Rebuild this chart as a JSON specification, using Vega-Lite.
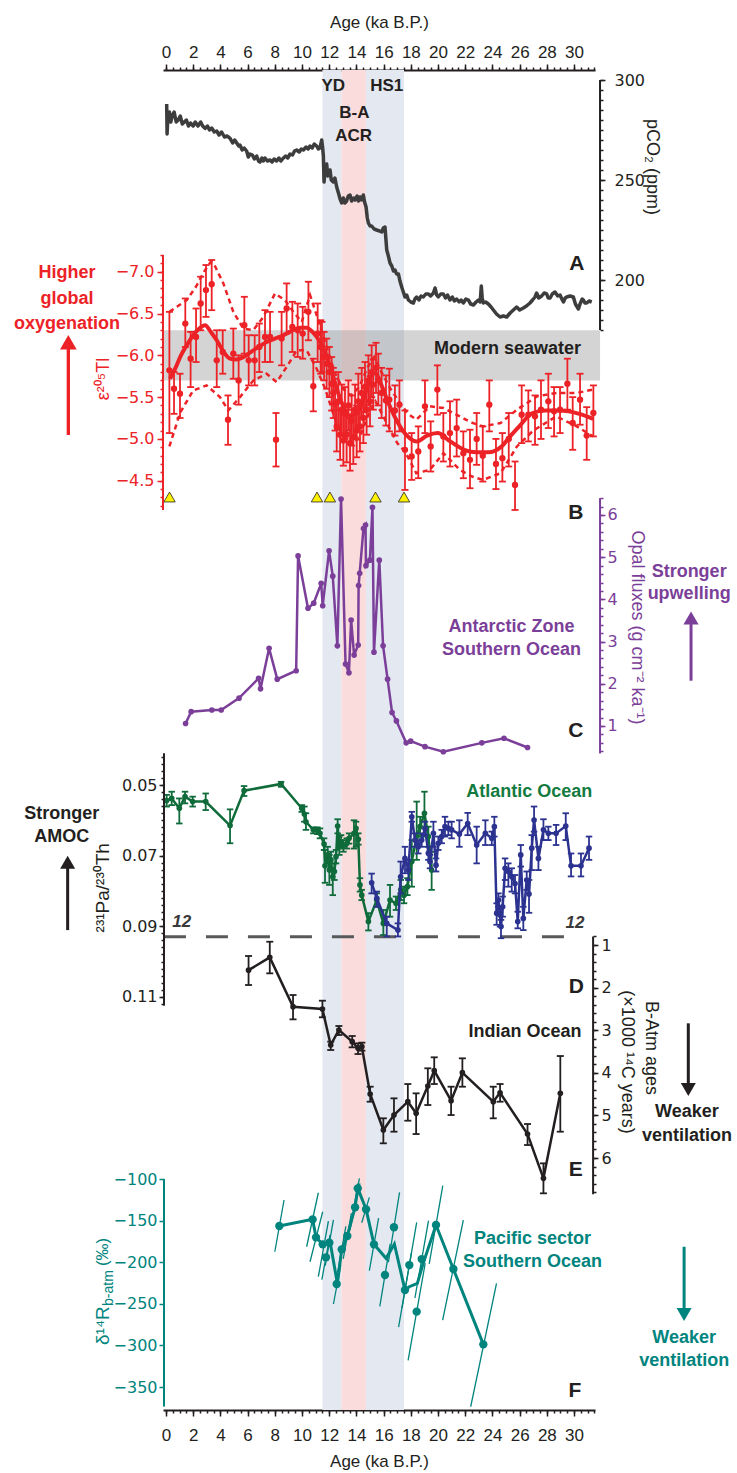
{
"$schema":"https://vega.github.io/schema/vega-lite/v6.json",
"width":432,"height":1340,
"autosize":{"type":"none"},
"padding":{"left":163,"top":70,"right":142,"bottom":63},
"background":"white",
"config":{"view":{"stroke":null},"font":"Liberation Sans","text":{"font":"Liberation Sans"},
"axis":{"grid":false,"labelFont":"DejaVu Sans","titleFont":"Liberation Sans","labelFontSize":16,"titleFontSize":17,"titleFontWeight":"normal","tickWidth":1.5,"domainWidth":2,"domainColor":"#231f20","tickColor":"#231f20","labelColor":"#231f20","titleColor":"#231f20","labelFlush":false,"labelOverlap":false}},
"datasets":{
"bands":[{"s":11.5,"e":12.9,"b":"YD"},{"s":12.9,"e":14.7,"b":"BA"},{"s":14.7,"e":17.5,"b":"HS1"}],
"pco2":[{"a":0.05,"v":288},{"a":0.08,"v":273},{"a":0.15,"v":283},{"a":0.25,"v":284},{"a":0.35,"v":279},{"a":0.45,"v":282},{"a":0.6,"v":284},{"a":0.75,"v":279},{"a":0.9,"v":280},{"a":1.05,"v":282},{"a":1.2,"v":278},{"a":1.35,"v":279},{"a":1.5,"v":280},{"a":1.65,"v":277},{"a":1.8,"v":278.5},{"a":2.0,"v":277},{"a":2.15,"v":279},{"a":2.35,"v":277},{"a":2.55,"v":279},{"a":2.7,"v":277},{"a":2.87,"v":275.8},{"a":3.05,"v":277},{"a":3.2,"v":275},{"a":3.36,"v":276},{"a":3.55,"v":274},{"a":3.73,"v":274.5},{"a":3.9,"v":272.5},{"a":4.09,"v":274},{"a":4.3,"v":271.5},{"a":4.5,"v":272},{"a":4.71,"v":270.8},{"a":4.9,"v":268.5},{"a":5.05,"v":270},{"a":5.2,"v":268.5},{"a":5.35,"v":267},{"a":5.44,"v":267.5},{"a":5.6,"v":265},{"a":5.75,"v":266},{"a":5.93,"v":264.5},{"a":6.05,"v":261.5},{"a":6.18,"v":263},{"a":6.35,"v":262.5},{"a":6.5,"v":260.5},{"a":6.67,"v":262},{"a":6.8,"v":259.5},{"a":6.91,"v":259},{"a":7.05,"v":261},{"a":7.15,"v":259.5},{"a":7.28,"v":261},{"a":7.45,"v":259.5},{"a":7.65,"v":260},{"a":7.8,"v":259},{"a":7.95,"v":260.5},{"a":8.14,"v":259.5},{"a":8.3,"v":261},{"a":8.45,"v":259.5},{"a":8.63,"v":261},{"a":8.8,"v":262},{"a":8.95,"v":261},{"a":9.12,"v":263},{"a":9.3,"v":262.5},{"a":9.45,"v":264.5},{"a":9.61,"v":265},{"a":9.8,"v":264},{"a":9.95,"v":265.5},{"a":10.1,"v":265},{"a":10.3,"v":266.5},{"a":10.45,"v":265.5},{"a":10.59,"v":267},{"a":10.75,"v":266},{"a":10.9,"v":268},{"a":11.08,"v":267},{"a":11.2,"v":265.5},{"a":11.32,"v":266},{"a":11.45,"v":270},{"a":11.52,"v":266},{"a":11.57,"v":262},{"a":11.62,"v":249},{"a":11.7,"v":256},{"a":11.81,"v":258},{"a":11.9,"v":252},{"a":12.06,"v":255},{"a":12.15,"v":250},{"a":12.3,"v":249},{"a":12.42,"v":251},{"a":12.55,"v":246.5},{"a":12.7,"v":243},{"a":12.8,"v":240.5},{"a":12.92,"v":238.5},{"a":13.04,"v":241},{"a":13.15,"v":238.5},{"a":13.28,"v":239.5},{"a":13.4,"v":242},{"a":13.53,"v":242.5},{"a":13.65,"v":239.5},{"a":13.8,"v":241},{"a":13.9,"v":240},{"a":14.05,"v":242},{"a":14.15,"v":239.5},{"a":14.26,"v":241.5},{"a":14.38,"v":240},{"a":14.51,"v":242.5},{"a":14.6,"v":239},{"a":14.71,"v":236.5},{"a":14.8,"v":231},{"a":14.88,"v":228.5},{"a":15.0,"v":227},{"a":15.12,"v":227},{"a":15.3,"v":225.5},{"a":15.49,"v":225},{"a":15.7,"v":224.5},{"a":15.86,"v":224},{"a":15.98,"v":226},{"a":16.1,"v":226.5},{"a":16.15,"v":222},{"a":16.23,"v":215},{"a":16.35,"v":212},{"a":16.47,"v":208.5},{"a":16.6,"v":207},{"a":16.72,"v":204.5},{"a":16.84,"v":205},{"a":16.95,"v":203},{"a":17.09,"v":203},{"a":17.2,"v":199.5},{"a":17.33,"v":196.5},{"a":17.45,"v":194},{"a":17.57,"v":191.5},{"a":17.7,"v":192.5},{"a":17.82,"v":190},{"a":18.0,"v":189},{"a":18.19,"v":188.5},{"a":18.3,"v":190.5},{"a":18.43,"v":191.5},{"a":18.6,"v":190},{"a":18.75,"v":192},{"a":18.92,"v":191.5},{"a":19.1,"v":193},{"a":19.29,"v":193},{"a":19.45,"v":192},{"a":19.66,"v":193.5},{"a":19.78,"v":196},{"a":19.9,"v":192.5},{"a":20.02,"v":191.5},{"a":20.2,"v":193},{"a":20.39,"v":193},{"a":20.55,"v":191},{"a":20.7,"v":192.5},{"a":20.88,"v":190},{"a":21.05,"v":191.5},{"a":21.2,"v":189.5},{"a":21.37,"v":190.5},{"a":21.55,"v":189},{"a":21.7,"v":190},{"a":21.86,"v":188.5},{"a":22.05,"v":190.5},{"a":22.23,"v":190},{"a":22.4,"v":188},{"a":22.6,"v":187.5},{"a":22.8,"v":189},{"a":22.97,"v":190},{"a":23.1,"v":189},{"a":23.18,"v":197},{"a":23.25,"v":191},{"a":23.33,"v":188.5},{"a":23.5,"v":189},{"a":23.7,"v":188},{"a":23.9,"v":186.5},{"a":24.07,"v":185},{"a":24.3,"v":183},{"a":24.56,"v":181.5},{"a":24.8,"v":182},{"a":25.05,"v":181.5},{"a":25.3,"v":183.5},{"a":25.54,"v":185},{"a":25.78,"v":186.5},{"a":26.0,"v":185},{"a":26.27,"v":186},{"a":26.5,"v":187},{"a":26.76,"v":188.5},{"a":26.95,"v":190},{"a":27.13,"v":191.5},{"a":27.25,"v":193.5},{"a":27.4,"v":191},{"a":27.62,"v":192},{"a":27.8,"v":193.5},{"a":27.99,"v":193},{"a":28.1,"v":191},{"a":28.24,"v":191},{"a":28.4,"v":193},{"a":28.6,"v":194},{"a":28.8,"v":192},{"a":28.97,"v":192.5},{"a":29.1,"v":190.5},{"a":29.22,"v":189},{"a":29.35,"v":191},{"a":29.46,"v":191.5},{"a":29.7,"v":192},{"a":29.95,"v":191.5},{"a":30.1,"v":188},{"a":30.32,"v":185.5},{"a":30.44,"v":188},{"a":30.6,"v":190.5},{"a":30.69,"v":190},{"a":30.8,"v":188.5},{"a":30.93,"v":188.5},{"a":31.1,"v":189.5},{"a":31.3,"v":189}],
"tl":[{"a":0.25,"v":-5.82,"lo":-6.52,"hi":-5.07},{"a":0.59,"v":-5.6,"lo":-5.8,"hi":-5.3},{"a":1.03,"v":-5.54,"lo":-5.78,"hi":-5.25},{"a":1.42,"v":-6.38,"lo":-6.68,"hi":-6.1},{"a":1.81,"v":-5.96,"lo":-6.28,"hi":-5.62},{"a":2.21,"v":-6.22,"lo":-6.56,"hi":-5.92},{"a":2.55,"v":-6.62,"lo":-6.94,"hi":-6.3},{"a":2.94,"v":-6.78,"lo":-7.08,"hi":-6.46},{"a":3.36,"v":-6.85,"lo":-7.14,"hi":-6.54},{"a":3.73,"v":-5.94,"lo":-6.3,"hi":-5.62},{"a":4.17,"v":-6.04,"lo":-6.3,"hi":-5.78},{"a":4.56,"v":-5.23,"lo":-5.52,"hi":-4.93},{"a":4.95,"v":-6.02,"lo":-6.32,"hi":-5.72},{"a":5.34,"v":-5.7,"lo":-6.0,"hi":-5.41},{"a":5.76,"v":-6.36,"lo":-6.7,"hi":-6.02},{"a":6.08,"v":-5.94,"lo":-6.24,"hi":-5.64},{"a":6.52,"v":-5.94,"lo":-6.24,"hi":-5.64},{"a":6.86,"v":-6.1,"lo":-6.38,"hi":-5.8},{"a":7.28,"v":-6.22,"lo":-6.54,"hi":-5.92},{"a":7.65,"v":-6.22,"lo":-6.52,"hi":-5.92},{"a":8.09,"v":-4.99,"lo":-5.31,"hi":-4.67},{"a":8.5,"v":-6.2,"lo":-6.52,"hi":-5.88},{"a":8.87,"v":-6.56,"lo":-6.86,"hi":-6.26},{"a":9.29,"v":-6.34,"lo":-6.64,"hi":-6.04},{"a":9.68,"v":-6.3,"lo":-6.62,"hi":-5.98},{"a":10.05,"v":-6.26,"lo":-6.58,"hi":-5.96},{"a":10.47,"v":-6.52,"lo":-6.88,"hi":-6.18},{"a":10.83,"v":-5.63,"lo":-5.96,"hi":-5.33},{"a":11.15,"v":-6.26,"lo":-6.62,"hi":-5.92},{"a":11.37,"v":-6.1,"lo":-6.42,"hi":-5.78},
{"a":11.47,"v":-6.1,"lo":-6.4,"hi":-5.8},{"a":11.62,"v":-5.98,"lo":-6.28,"hi":-5.7},{"a":11.81,"v":-5.9,"lo":-6.2,"hi":-5.6},{"a":12.01,"v":-5.8,"lo":-6.1,"hi":-5.5},{"a":12.18,"v":-5.66,"lo":-5.98,"hi":-5.34},{"a":12.3,"v":-5.55,"lo":-5.85,"hi":-5.25},{"a":12.43,"v":-5.42,"lo":-5.72,"hi":-5.1},{"a":12.55,"v":-5.15,"lo":-5.45,"hi":-4.85},{"a":12.67,"v":-5.45,"lo":-5.8,"hi":-5.12},{"a":12.8,"v":-5.05,"lo":-5.35,"hi":-4.75},{"a":12.92,"v":-5.35,"lo":-5.65,"hi":-5.05},{"a":13.04,"v":-4.98,"lo":-5.3,"hi":-4.68},{"a":13.16,"v":-5.3,"lo":-5.62,"hi":-5.0},{"a":13.28,"v":-5.05,"lo":-5.35,"hi":-4.72},{"a":13.41,"v":-5.4,"lo":-5.7,"hi":-5.1},{"a":13.53,"v":-4.95,"lo":-5.25,"hi":-4.62},{"a":13.65,"v":-5.22,"lo":-5.52,"hi":-4.92},{"a":13.77,"v":-5.02,"lo":-5.35,"hi":-4.7},{"a":13.9,"v":-5.35,"lo":-5.65,"hi":-5.02},{"a":14.02,"v":-5.1,"lo":-5.4,"hi":-4.78},{"a":14.14,"v":-5.45,"lo":-5.78,"hi":-5.15},{"a":14.26,"v":-5.15,"lo":-5.45,"hi":-4.85},{"a":14.39,"v":-5.55,"lo":-5.85,"hi":-5.25},{"a":14.51,"v":-5.25,"lo":-5.55,"hi":-4.95},{"a":14.63,"v":-5.62,"lo":-5.92,"hi":-5.32},{"a":14.75,"v":-5.35,"lo":-5.65,"hi":-5.05},{"a":14.88,"v":-5.7,"lo":-6.0,"hi":-5.4},{"a":15.0,"v":-5.45,"lo":-5.75,"hi":-5.15},{"a":15.12,"v":-5.8,"lo":-6.12,"hi":-5.5},{"a":15.24,"v":-5.65,"lo":-5.95,"hi":-5.35},{"a":15.44,"v":-5.85,"lo":-6.15,"hi":-5.55},{"a":15.61,"v":-5.7,"lo":-6.02,"hi":-5.4},{"a":15.85,"v":-5.55,"lo":-5.85,"hi":-5.25},{"a":16.17,"v":-5.46,"lo":-5.76,"hi":-5.16},{"a":16.42,"v":-5.47,"lo":-5.84,"hi":-5.09},{"a":16.83,"v":-5.34,"lo":-5.64,"hi":-5.04},{"a":17.16,"v":-5.41,"lo":-5.7,"hi":-5.09},{"a":17.57,"v":-4.87,"lo":-5.34,"hi":-4.39},{"a":18.06,"v":-4.79,"lo":-5.07,"hi":-4.51},{"a":18.55,"v":-4.85,"lo":-5.15,"hi":-4.53},{"a":19.04,"v":-5.39,"lo":-5.7,"hi":-5.07},{"a":19.46,"v":-4.91,"lo":-5.21,"hi":-4.61},{"a":19.95,"v":-5.59,"lo":-5.88,"hi":-5.29},{"a":20.39,"v":-5.03,"lo":-5.31,"hi":-4.73},{"a":20.88,"v":-5.07,"lo":-5.45,"hi":-4.67},{"a":21.37,"v":-5.13,"lo":-5.47,"hi":-4.79},{"a":21.86,"v":-4.83,"lo":-5.09,"hi":-4.53},{"a":22.35,"v":-4.75,"lo":-5.11,"hi":-4.41},{"a":22.84,"v":-5.0,"lo":-5.31,"hi":-4.69},{"a":23.29,"v":-4.8,"lo":-5.15,"hi":-4.49},{"a":23.77,"v":-5.41,"lo":-5.7,"hi":-5.09},{"a":24.26,"v":-4.7,"lo":-5.0,"hi":-4.4},{"a":24.73,"v":-4.77,"lo":-5.07,"hi":-4.49},{"a":25.2,"v":-5.0,"lo":-5.31,"hi":-4.67},{"a":25.66,"v":-4.45,"lo":-4.73,"hi":-4.15},{"a":26.15,"v":-5.29,"lo":-5.64,"hi":-4.95},{"a":26.64,"v":-5.29,"lo":-5.58,"hi":-4.97},{"a":27.13,"v":-5.27,"lo":-5.52,"hi":-4.93},{"a":27.57,"v":-5.35,"lo":-5.7,"hi":-5.0},{"a":28.11,"v":-5.45,"lo":-5.78,"hi":-5.13},{"a":28.53,"v":-5.33,"lo":-5.62,"hi":-5.03},{"a":28.97,"v":-5.35,"lo":-5.62,"hi":-5.07},{"a":29.51,"v":-5.66,"lo":-5.96,"hi":-5.35},{"a":29.9,"v":-5.19,"lo":-5.5,"hi":-4.87},{"a":30.44,"v":-5.47,"lo":-5.78,"hi":-5.17},{"a":30.93,"v":-5.04,"lo":-5.38,"hi":-4.75},{"a":31.42,"v":-5.31,"lo":-5.64,"hi":-5.03}],
"tlfit":[{"a":0.29,"v":-5.72},{"a":0.7,"v":-5.85},{"a":1.1,"v":-6.0},{"a":1.6,"v":-6.14},{"a":2.0,"v":-6.24},{"a":2.45,"v":-6.32},{"a":2.87,"v":-6.36},{"a":3.3,"v":-6.28},{"a":3.73,"v":-6.18},{"a":4.2,"v":-6.05},{"a":4.71,"v":-5.96},{"a":5.1,"v":-5.95},{"a":5.44,"v":-5.96},{"a":5.9,"v":-6.0},{"a":6.42,"v":-6.06},{"a":6.9,"v":-6.11},{"a":7.4,"v":-6.16},{"a":8.0,"v":-6.2},{"a":8.63,"v":-6.24},{"a":9.2,"v":-6.29},{"a":9.85,"v":-6.33},{"a":10.34,"v":-6.33},{"a":10.7,"v":-6.29},{"a":11.08,"v":-6.22},{"a":11.69,"v":-6.04},{"a":12.3,"v":-5.74},{"a":12.9,"v":-5.44},{"a":13.5,"v":-5.28},{"a":14.1,"v":-5.32},{"a":14.6,"v":-5.52},{"a":15.1,"v":-5.76},{"a":15.4,"v":-5.79},{"a":15.8,"v":-5.66},{"a":16.3,"v":-5.45},{"a":16.8,"v":-5.27},{"a":17.6,"v":-5.06},{"a":18.43,"v":-4.97},{"a":19.2,"v":-5.04},{"a":19.97,"v":-5.07},{"a":20.9,"v":-4.97},{"a":21.93,"v":-4.87},{"a":22.8,"v":-4.84},{"a":23.69,"v":-4.84},{"a":24.67,"v":-4.91},{"a":25.3,"v":-5.03},{"a":25.97,"v":-5.15},{"a":26.95,"v":-5.31},{"a":27.9,"v":-5.34},{"a":28.92,"v":-5.34},{"a":30.39,"v":-5.3},{"a":31.4,"v":-5.24}],
"tlup":[{"a":0.25,"v":-6.52},{"a":0.8,"v":-6.58},{"a":1.52,"v":-6.66},{"a":2.2,"v":-6.82},{"a":2.8,"v":-7.0},{"a":3.3,"v":-7.12},{"a":3.5,"v":-7.1},{"a":4.22,"v":-6.86},{"a":4.95,"v":-6.52},{"a":5.69,"v":-6.32},{"a":6.42,"v":-6.3},{"a":7.16,"v":-6.46},{"a":8.01,"v":-6.74},{"a":8.75,"v":-6.66},{"a":9.36,"v":-6.52},{"a":9.98,"v":-6.4},{"a":10.59,"v":-6.72},{"a":11.2,"v":-6.42},{"a":11.8,"v":-6.1},{"a":12.4,"v":-5.8},{"a":13.0,"v":-5.6},{"a":13.6,"v":-5.52},{"a":14.2,"v":-5.62},{"a":14.8,"v":-5.85},{"a":15.3,"v":-5.98},{"a":15.9,"v":-5.78},{"a":16.5,"v":-5.6},{"a":17.2,"v":-5.43},{"a":17.8,"v":-5.3},{"a":18.4,"v":-5.23},{"a":19.4,"v":-5.39},{"a":20.4,"v":-5.37},{"a":21.6,"v":-5.27},{"a":22.4,"v":-5.2},{"a":23.3,"v":-5.15},{"a":24.6,"v":-5.19},{"a":25.8,"v":-5.35},{"a":27.3,"v":-5.51},{"a":28.7,"v":-5.55},{"a":30.2,"v":-5.55},{"a":31.4,"v":-5.59}],
"tldn":[{"a":0.25,"v":-4.91},{"a":1.03,"v":-5.31},{"a":2.0,"v":-5.58},{"a":2.99,"v":-5.64},{"a":3.97,"v":-5.5},{"a":4.58,"v":-5.34},{"a":5.44,"v":-5.5},{"a":6.42,"v":-5.7},{"a":7.4,"v":-5.78},{"a":8.14,"v":-5.68},{"a":8.87,"v":-5.86},{"a":9.61,"v":-6.06},{"a":10.34,"v":-6.06},{"a":11.08,"v":-5.84},{"a":11.7,"v":-5.6},{"a":12.3,"v":-5.3},{"a":12.9,"v":-5.05},{"a":13.5,"v":-4.95},{"a":14.2,"v":-5.0},{"a":14.9,"v":-5.3},{"a":15.4,"v":-5.45},{"a":16.2,"v":-5.2},{"a":17.0,"v":-4.95},{"a":17.57,"v":-4.85},{"a":18.4,"v":-4.59},{"a":19.4,"v":-4.63},{"a":20.4,"v":-4.83},{"a":21.6,"v":-4.63},{"a":22.5,"v":-4.55},{"a":23.3,"v":-4.51},{"a":24.6,"v":-4.59},{"a":25.8,"v":-4.91},{"a":27.0,"v":-5.1},{"a":28.7,"v":-5.27},{"a":30.2,"v":-5.15},{"a":31.4,"v":-5.03}],
"tri":[{"a":0.26},{"a":11.1},{"a":12.05},{"a":15.4},{"a":17.5}],
"opal":[{"a":1.44,"v":1.06},{"a":1.85,"v":1.34},{"a":3.37,"v":1.38},{"a":4.06,"v":1.38},{"a":5.37,"v":1.66},{"a":6.81,"v":2.13},{"a":6.95,"v":1.88},{"a":7.58,"v":2.84},{"a":8.18,"v":2.11},{"a":9.57,"v":2.31},{"a":9.71,"v":5.03},{"a":10.44,"v":3.79},{"a":10.86,"v":3.91},{"a":11.41,"v":4.38},{"a":11.52,"v":3.85},{"a":11.99,"v":5.15},{"a":12.26,"v":4.55},{"a":12.6,"v":2.9},{"a":12.87,"v":6.38},{"a":13.2,"v":2.47},{"a":13.45,"v":2.26},{"a":13.61,"v":3.51},{"a":13.83,"v":2.68},{"a":14.13,"v":2.92},{"a":14.16,"v":4.33},{"a":14.24,"v":4.62},{"a":14.52,"v":5.68},{"a":14.67,"v":5.76},{"a":14.7,"v":4.8},{"a":14.99,"v":4.93},{"a":15.18,"v":6.18},{"a":15.29,"v":2.75},{"a":15.68,"v":4.93},{"a":15.96,"v":2.9},{"a":16.29,"v":2.11},{"a":16.62,"v":1.32},{"a":16.94,"v":1.12},{"a":17.66,"v":0.6},{"a":17.99,"v":0.64},{"a":19.04,"v":0.51},{"a":20.39,"v":0.39},{"a":23.22,"v":0.6},{"a":24.85,"v":0.71},{"a":26.58,"v":0.49}],
"atl":[{"a":0.05,"v":0.0544,"lo":0.0528,"hi":0.0561},{"a":0.42,"v":0.0538,"lo":0.0519,"hi":0.0557},{"a":0.98,"v":0.0566,"lo":0.0538,"hi":0.0609},{"a":1.4,"v":0.0533,"lo":0.0519,"hi":0.0552},{"a":1.96,"v":0.0547,"lo":0.0533,"hi":0.0561},{"a":2.92,"v":0.0547,"lo":0.0524,"hi":0.0571},{"a":4.71,"v":0.0615,"lo":0.0569,"hi":0.0665},{"a":5.74,"v":0.0516,"lo":0.0503,"hi":0.0531},{"a":8.46,"v":0.0497,"lo":0.0491,"hi":0.0505},{"a":9.98,"v":0.0566,"lo":0.0557,"hi":0.0576},{"a":10.17,"v":0.0582,"lo":0.0561,"hi":0.0604},{"a":10.29,"v":0.0604,"lo":0.058,"hi":0.0627},{"a":10.83,"v":0.0627,"lo":0.062,"hi":0.0637},{"a":11.13,"v":0.0629,"lo":0.062,"hi":0.0639},{"a":11.32,"v":0.0637,"lo":0.0623,"hi":0.0651},{"a":11.62,"v":0.0667,"lo":0.0651,"hi":0.0684},{"a":11.69,"v":0.0729,"lo":0.0684,"hi":0.0777},{"a":11.89,"v":0.0698,"lo":0.0675,"hi":0.0722},{"a":12.01,"v":0.0741,"lo":0.0698,"hi":0.0783},{"a":12.13,"v":0.0712,"lo":0.0689,"hi":0.0736},{"a":12.26,"v":0.076,"lo":0.0736,"hi":0.0812},{"a":12.38,"v":0.0745,"lo":0.0722,"hi":0.0769},{"a":12.5,"v":0.0703,"lo":0.0684,"hi":0.0722},{"a":12.62,"v":0.0616,"lo":0.0597,"hi":0.0637},{"a":12.74,"v":0.0675,"lo":0.0646,"hi":0.0698},{"a":12.87,"v":0.0661,"lo":0.0642,"hi":0.068},{"a":13.04,"v":0.0673,"lo":0.0656,"hi":0.0689},{"a":13.29,"v":0.0666,"lo":0.0651,"hi":0.068},{"a":13.46,"v":0.0651,"lo":0.0637,"hi":0.0666},{"a":13.82,"v":0.0637,"lo":0.06,"hi":0.068},{"a":13.97,"v":0.0623,"lo":0.0604,"hi":0.0675},{"a":14.14,"v":0.0654,"lo":0.0637,"hi":0.0669},{"a":14.26,"v":0.0783,"lo":0.0764,"hi":0.0802},{"a":14.39,"v":0.0812,"lo":0.0797,"hi":0.0826},{"a":14.88,"v":0.0887,"lo":0.0863,"hi":0.0912},{"a":15.49,"v":0.0826,"lo":0.0807,"hi":0.0845},{"a":15.98,"v":0.0892,"lo":0.0854,"hi":0.0925},{"a":16.47,"v":0.0826,"lo":0.0783,"hi":0.0873},{"a":16.91,"v":0.0835,"lo":0.0816,"hi":0.0854},{"a":17.26,"v":0.0797,"lo":0.0769,"hi":0.0826},{"a":17.5,"v":0.0812,"lo":0.0788,"hi":0.0835},{"a":17.75,"v":0.0788,"lo":0.0764,"hi":0.0812},{"a":18.07,"v":0.0717,"lo":0.0656,"hi":0.0788},{"a":18.43,"v":0.0646,"lo":0.0547,"hi":0.0712},{"a":18.68,"v":0.0618,"lo":0.059,"hi":0.0646},{"a":19.0,"v":0.058,"lo":0.0519,"hi":0.0646},{"a":19.29,"v":0.0646,"lo":0.0618,"hi":0.0675},{"a":19.53,"v":0.0741,"lo":0.0689,"hi":0.0797}],
"atl2":[{"a":15.12,"v":0.0777,"lo":0.0751,"hi":0.0807},{"a":15.5,"v":0.0821,"lo":0.0802,"hi":0.0845},{"a":16.23,"v":0.0892,"lo":0.0873,"hi":0.0929},{"a":17.05,"v":0.0911,"lo":0.0892,"hi":0.0929},{"a":17.25,"v":0.076,"lo":0.0717,"hi":0.0807},{"a":17.57,"v":0.0708,"lo":0.0675,"hi":0.075},{"a":17.82,"v":0.0741,"lo":0.0712,"hi":0.0769},{"a":18.07,"v":0.059,"lo":0.0576,"hi":0.0604},{"a":18.31,"v":0.0656,"lo":0.0637,"hi":0.0675},{"a":18.55,"v":0.0675,"lo":0.0656,"hi":0.0694},{"a":18.8,"v":0.0656,"lo":0.0637,"hi":0.0675},{"a":19.04,"v":0.0623,"lo":0.0604,"hi":0.0642},{"a":19.29,"v":0.0693,"lo":0.0675,"hi":0.0712},{"a":19.41,"v":0.0717,"lo":0.0698,"hi":0.0736},{"a":19.66,"v":0.0637,"lo":0.0604,"hi":0.0675},{"a":19.85,"v":0.0727,"lo":0.0708,"hi":0.0745},{"a":20.02,"v":0.0665,"lo":0.0646,"hi":0.0684},{"a":20.27,"v":0.0646,"lo":0.0627,"hi":0.0665},{"a":20.51,"v":0.0618,"lo":0.059,"hi":0.0646},{"a":20.76,"v":0.0623,"lo":0.0604,"hi":0.0642},{"a":21.0,"v":0.0627,"lo":0.0604,"hi":0.0651},{"a":21.57,"v":0.0639,"lo":0.06,"hi":0.0675},{"a":22.18,"v":0.0609,"lo":0.0579,"hi":0.0642},{"a":22.84,"v":0.067,"lo":0.0618,"hi":0.0722},{"a":23.48,"v":0.0637,"lo":0.06,"hi":0.067},{"a":23.95,"v":0.0651,"lo":0.0632,"hi":0.067},{"a":24.14,"v":0.0618,"lo":0.059,"hi":0.0646},{"a":24.31,"v":0.0863,"lo":0.0835,"hi":0.0896},{"a":24.44,"v":0.0826,"lo":0.0807,"hi":0.0845},{"a":24.56,"v":0.0868,"lo":0.0845,"hi":0.0901},{"a":24.63,"v":0.0901,"lo":0.0882,"hi":0.0934},{"a":24.75,"v":0.0845,"lo":0.0816,"hi":0.0873},{"a":24.93,"v":0.0736,"lo":0.0708,"hi":0.0769},{"a":25.17,"v":0.0745,"lo":0.0722,"hi":0.0788},{"a":25.42,"v":0.076,"lo":0.0736,"hi":0.0802},{"a":25.66,"v":0.0779,"lo":0.0755,"hi":0.0807},{"a":25.86,"v":0.0887,"lo":0.0859,"hi":0.0906},{"a":26.08,"v":0.0698,"lo":0.067,"hi":0.0731},{"a":26.27,"v":0.0878,"lo":0.0845,"hi":0.0911},{"a":26.52,"v":0.0769,"lo":0.0745,"hi":0.0797},{"a":26.69,"v":0.0809,"lo":0.0769,"hi":0.0862},{"a":26.89,"v":0.0679,"lo":0.0642,"hi":0.0741},{"a":27.06,"v":0.0599,"lo":0.0561,"hi":0.0632},{"a":27.38,"v":0.0708,"lo":0.0675,"hi":0.0741},{"a":27.75,"v":0.0627,"lo":0.0597,"hi":0.0656},{"a":28.11,"v":0.0637,"lo":0.0618,"hi":0.0656},{"a":28.68,"v":0.0637,"lo":0.0613,"hi":0.067},{"a":29.39,"v":0.0616,"lo":0.058,"hi":0.0656},{"a":29.78,"v":0.0729,"lo":0.0694,"hi":0.0759},{"a":30.51,"v":0.0729,"lo":0.0694,"hi":0.0759},{"a":31.1,"v":0.0679,"lo":0.0646,"hi":0.0712}],
"ind":[{"a":6.07,"v":1.59,"lo":1.258,"hi":1.939},{"a":7.63,"v":1.29,"lo":0.923,"hi":1.665},{"a":9.34,"v":2.448,"lo":2.174,"hi":2.745},{"a":11.5,"v":2.502,"lo":2.307,"hi":2.697},{"a":12.11,"v":3.347,"lo":3.269,"hi":3.465},{"a":12.71,"v":2.995,"lo":2.901,"hi":3.113},{"a":13.69,"v":3.269,"lo":3.136,"hi":3.402},{"a":14.12,"v":3.425,"lo":3.308,"hi":3.559},{"a":14.4,"v":3.386,"lo":3.292,"hi":3.48},{"a":15.01,"v":4.498,"lo":4.326,"hi":4.678},{"a":15.98,"v":5.343,"lo":5.068,"hi":5.655},{"a":16.76,"v":4.991,"lo":4.599,"hi":5.382},{"a":17.78,"v":4.678,"lo":4.263,"hi":5.124},{"a":18.39,"v":4.951,"lo":4.482,"hi":5.437},{"a":19.25,"v":4.31,"lo":3.894,"hi":4.756},{"a":19.72,"v":3.95,"lo":3.636,"hi":4.263},{"a":20.96,"v":4.655,"lo":4.326,"hi":4.991},{"a":21.79,"v":3.997,"lo":3.66,"hi":4.326},{"a":24.06,"v":4.678,"lo":4.326,"hi":5.068},{"a":24.56,"v":4.467,"lo":4.263,"hi":4.678},{"a":26.58,"v":5.437,"lo":5.202,"hi":5.695},{"a":27.75,"v":6.477,"lo":6.125,"hi":6.829},{"a":28.99,"v":4.482,"lo":3.606,"hi":5.382}],
"pac":[{"a":8.33,"v":-156.5,"a1":8.0,"v1":-187.4,"a2":8.68,"v2":-125.2},{"a":10.78,"v":-148.5,"a1":10.34,"v1":-181.4,"a2":11.2,"v2":-116.5},{"a":11.03,"v":-170.1,"a1":10.59,"v1":-199.4,"a2":11.52,"v2":-139.3},{"a":11.52,"v":-178.5,"a1":11.2,"v1":-217.4,"a2":11.94,"v2":-150.5},{"a":11.76,"v":-194.1,"a1":11.46,"v1":-221,"a2":12.06,"v2":-167},{"a":12.01,"v":-176.6,"a1":11.71,"v1":-204,"a2":12.31,"v2":-149},{"a":12.55,"v":-226.2,"a1":12.31,"v1":-250.2,"a2":12.85,"v2":-203.4},{"a":12.92,"v":-184.5,"a1":12.62,"v1":-212,"a2":13.22,"v2":-157},{"a":13.33,"v":-168.5,"a1":13.03,"v1":-196,"a2":13.63,"v2":-141},{"a":13.9,"v":-134,"a1":13.52,"v1":-161.3,"a2":14.26,"v2":-105.2},{"a":14.1,"v":-111.2,"a1":13.82,"v1":-133.3,"a2":14.22,"v2":-99.2},{"a":14.71,"v":-136.4,"a1":14.39,"v1":-152.5,"a2":14.95,"v2":-122},{"a":15.29,"v":-178.5,"a1":14.95,"v1":-210,"a2":15.63,"v2":-147},{"a":16.1,"v":-215.4,"a1":15.72,"v1":-253,"a2":16.48,"v2":-178},{"a":16.76,"v":-158,"a1":16.35,"v1":-200,"a2":17.17,"v2":-116},{"a":17.57,"v":-233.4,"a1":17.1,"v1":-278,"a2":18.04,"v2":-189},{"a":17.89,"v":-203.4,"a1":17.35,"v1":-255,"a2":18.43,"v2":-152},{"a":18.43,"v":-259.4,"a1":17.8,"v1":-318,"a2":19.06,"v2":-201},{"a":18.8,"v":-196.2,"a1":18.3,"v1":-243,"a2":19.3,"v2":-150},{"a":19.85,"v":-155.3,"a1":19.35,"v1":-202,"a2":20.35,"v2":-108},{"a":21.13,"v":-208.2,"a1":20.34,"v1":-269.5,"a2":21.86,"v2":-149.3},{"a":23.33,"v":-298.7,"a1":22.4,"v1":-373.7,"a2":24.3,"v2":-225.4}],
"pacl":[{"a":8.33,"v":-156.5},{"a":10.78,"v":-148.5},{"a":11.03,"v":-170.1},{"a":11.52,"v":-178.5},{"a":12.06,"v":-175.3},{"a":12.6,"v":-225.4},{"a":12.92,"v":-184.5},{"a":13.33,"v":-168.5},{"a":13.9,"v":-134},{"a":14.1,"v":-111.2},{"a":14.71,"v":-136.4},{"a":15.29,"v":-178.5},{"a":16.18,"v":-195.3},{"a":16.79,"v":-178.1},{"a":17.57,"v":-233.4},{"a":17.89,"v":-229.4},{"a":18.48,"v":-225.4},{"a":18.87,"v":-203.4},{"a":19.85,"v":-155.3},{"a":21.13,"v":-208.2},{"a":23.33,"v":-298.7}]
},
"resolve":{"scale":{"y":"independent"},"axis":{"x":"independent","y":"independent"}},
"layer":[
{"data":{"name":"bands"},"mark":{"type":"rect"},
 "encoding":{
  "x":{"field":"s","type":"quantitative","scale":{"domain":[-0.22,31.54],"nice":false,"zero":false},"axis":{"orient":"top","values":[0,2,4,6,8,10,12,14,16,18,20,22,24,26,28,30],"title":"Age (ka B.P.)","tickSize":6,"labelPadding":3,"titlePadding":12,"labelFont":"Liberation Sans","labelFontSize":17,"titleFontSize":17}},
  "x2":{"field":"e"},
  "color":{"field":"b","type":"nominal","scale":{"domain":["YD","BA","HS1"],"range":["#e3e8f1","#fadcdd","#e3e8f1"]},"legend":null}}},
{"data":{"values":[{"a":0}]},"mark":{"type":"rule","opacity":0},
 "encoding":{"x":{"field":"a","type":"quantitative","scale":{"domain":[-0.22,31.54],"nice":false,"zero":false},"axis":{"orient":"top","values":[0,0.5,1,1.5,2,2.5,3,3.5,4,4.5,5,5.5,6,6.5,7,7.5,8,8.5,9,9.5,10,10.5,11,11.5,12,12.5,13,13.5,14,14.5,15,15.5,16,16.5,17,17.5,18,18.5,19,19.5,20,20.5,21,21.5,22,22.5,23,23.5,24,24.5,25,25.5,26,26.5,27,27.5,28,28.5,29,29.5,30,30.5,31,31.5],"labels":false,"domain":false,"tickSize":3,"title":null}}}},
{"data":{"values":[{"a":0}]},"mark":{"type":"rule","opacity":0},
 "encoding":{"x":{"field":"a","type":"quantitative","scale":{"domain":[-0.22,31.54],"nice":false,"zero":false},"axis":{"orient":"bottom","values":[0,2,4,6,8,10,12,14,16,18,20,22,24,26,28,30],"title":"Age (ka B.P.)","tickSize":6,"labelPadding":11,"titlePadding":10,"labelFont":"Liberation Sans","labelFontSize":17,"titleFontSize":17}}}},
{"data":{"values":[{"a":0}]},"mark":{"type":"rule","opacity":0},
 "encoding":{"x":{"field":"a","type":"quantitative","scale":{"domain":[-0.22,31.54],"nice":false,"zero":false},"axis":{"orient":"bottom","values":[0,0.5,1,1.5,2,2.5,3,3.5,4,4.5,5,5.5,6,6.5,7,7.5,8,8.5,9,9.5,10,10.5,11,11.5,12,12.5,13,13.5,14,14.5,15,15.5,16,16.5,17,17.5,18,18.5,19,19.5,20,20.5,21,21.5,22,22.5,23,23.5,24,24.5,25,25.5,26,26.5,27,27.5,28,28.5,29,29.5,30,30.5,31,31.5],"labels":false,"domain":false,"tickSize":3,"title":null}}}},

{"data":{"values":[{}]},"resolve":{"axis":{"y":"independent"}},
 "layer":[
  {"data":{"name":"pco2"},"mark":{"type":"line","color":"#3d3d3d","strokeWidth":3.5,"strokeJoin":"round"},
   "encoding":{"x":{"field":"a","type":"quantitative","scale":{"domain":[-0.22,31.54],"nice":false,"zero":false},"axis":null},
    "y":{"field":"v","type":"quantitative","scale":{"domain":[-365,305],"nice":false,"zero":false},"axis":{"orient":"right","offset":5,"values":[200,250,300],"domain":false,"tickSize":5,"labelPadding":9,"title":null}}}},
  {"mark":{"type":"rule","opacity":0},"encoding":{"y":{"datum":250,"type":"quantitative","scale":{"domain":[-365,305],"nice":false,"zero":false},"axis":{"orient":"right","offset":5,"values":[175,180,185,190,195,200,205,210,215,220,225,230,235,240,245,250,255,260,265,270,275,280,285,290,295,300],"labels":false,"domain":false,"tickSize":3,"title":null}}}},
  {"mark":{"type":"rule","color":"#231f20","strokeWidth":2},"encoding":{"x":{"datum":31.91,"type":"quantitative","scale":{"domain":[-0.22,31.54],"nice":false,"zero":false},"axis":null},"y":{"datum":175,"type":"quantitative","scale":{"domain":[-365,305],"nice":false,"zero":false},"axis":null},"y2":{"datum":300}}},
  {"mark":{"type":"text","text":"pCO₂ (ppm)","angle":90,"fontSize":18,"color":"#231f20"},"encoding":{"x":{"datum":35.7,"type":"quantitative","scale":{"domain":[-0.22,31.54],"nice":false,"zero":false},"axis":null},"y":{"datum":256.5,"type":"quantitative","scale":{"domain":[-365,305],"nice":false,"zero":false},"axis":null}}},
  {"mark":{"type":"text","text":"A","fontSize":21,"fontWeight":"bold","color":"#231f20"},"encoding":{"x":{"datum":30.2,"type":"quantitative","scale":{"domain":[-0.22,31.54],"nice":false,"zero":false},"axis":null},"y":{"datum":208,"type":"quantitative","scale":{"domain":[-365,305],"nice":false,"zero":false},"axis":null}}},
  {"mark":{"type":"text","text":"YD","fontSize":17,"fontWeight":"bold","color":"#231f20"},"encoding":{"x":{"datum":12.3,"type":"quantitative","scale":{"domain":[-0.22,31.54],"nice":false,"zero":false},"axis":null},"y":{"datum":297.2,"type":"quantitative","scale":{"domain":[-365,305],"nice":false,"zero":false},"axis":null}}},
  {"mark":{"type":"text","text":"HS1","fontSize":17,"fontWeight":"bold","color":"#231f20"},"encoding":{"x":{"datum":16.23,"type":"quantitative","scale":{"domain":[-0.22,31.54],"nice":false,"zero":false},"axis":null},"y":{"datum":297.2,"type":"quantitative","scale":{"domain":[-365,305],"nice":false,"zero":false},"axis":null}}},
  {"mark":{"type":"text","text":"B-A","fontSize":17,"fontWeight":"bold","color":"#231f20"},"encoding":{"x":{"datum":13.85,"type":"quantitative","scale":{"domain":[-0.22,31.54],"nice":false,"zero":false},"axis":null},"y":{"datum":283.7,"type":"quantitative","scale":{"domain":[-365,305],"nice":false,"zero":false},"axis":null}}},
  {"mark":{"type":"text","text":"ACR","fontSize":17,"fontWeight":"bold","color":"#231f20"},"encoding":{"x":{"datum":13.8,"type":"quantitative","scale":{"domain":[-0.22,31.54],"nice":false,"zero":false},"axis":null},"y":{"datum":272.2,"type":"quantitative","scale":{"domain":[-365,305],"nice":false,"zero":false},"axis":null}}}
 ]},

{"data":{"values":[{}]},"resolve":{"axis":{"y":"independent"}},
 "layer":[
  {"mark":{"type":"rect","color":"#919191","opacity":0.39},"encoding":{"x":{"datum":-0.22,"type":"quantitative","scale":{"domain":[-0.22,31.54],"nice":false,"zero":false},"axis":null},"x2":{"datum":31.91},"y":{"datum":-6.3,"type":"quantitative","scale":{"domain":[-9.413,6.616],"nice":false,"zero":false,"reverse":true},"axis":null},"y2":{"datum":-5.7}}},
  {"mark":{"type":"text","text":"Modern seawater","fontSize":18,"fontWeight":"bold","color":"#231f20"},"encoding":{"x":{"datum":25.11,"type":"quantitative","scale":{"domain":[-0.22,31.54],"nice":false,"zero":false},"axis":null},"y":{"datum":-6.072,"type":"quantitative","scale":{"domain":[-9.413,6.616],"nice":false,"zero":false,"reverse":true},"axis":null}}},
  {"data":{"name":"tlup"},"mark":{"type":"line","color":"#ec2227","strokeWidth":2.5,"strokeDash":[5,4]},"encoding":{"x":{"field":"a","type":"quantitative","scale":{"domain":[-0.22,31.54],"nice":false,"zero":false},"axis":null},"y":{"field":"v","type":"quantitative","scale":{"domain":[-9.413,6.616],"nice":false,"zero":false,"reverse":true},"axis":null}}},
  {"data":{"name":"tldn"},"mark":{"type":"line","color":"#ec2227","strokeWidth":2.5,"strokeDash":[5,4]},"encoding":{"x":{"field":"a","type":"quantitative","scale":{"domain":[-0.22,31.54],"nice":false,"zero":false},"axis":null},"y":{"field":"v","type":"quantitative","scale":{"domain":[-9.413,6.616],"nice":false,"zero":false,"reverse":true},"axis":null}}},
  {"data":{"name":"tl"},"mark":{"type":"rule","color":"#ec2227","strokeWidth":1.8},"encoding":{"x":{"field":"a","type":"quantitative","scale":{"domain":[-0.22,31.54],"nice":false,"zero":false},"axis":null},"y":{"field":"lo","type":"quantitative","scale":{"domain":[-9.413,6.616],"nice":false,"zero":false,"reverse":true},"axis":null},"y2":{"field":"hi"}}},
  {"data":{"name":"tl"},"mark":{"type":"point","shape":"stroke","filled":false,"color":"#ec2227","strokeWidth":1.8,"size":49,"opacity":1},"encoding":{"x":{"field":"a","type":"quantitative","scale":{"domain":[-0.22,31.54],"nice":false,"zero":false},"axis":null},"y":{"field":"lo","type":"quantitative","scale":{"domain":[-9.413,6.616],"nice":false,"zero":false,"reverse":true},"axis":null}}},
  {"data":{"name":"tl"},"mark":{"type":"point","shape":"stroke","filled":false,"color":"#ec2227","strokeWidth":1.8,"size":49,"opacity":1},"encoding":{"x":{"field":"a","type":"quantitative","scale":{"domain":[-0.22,31.54],"nice":false,"zero":false},"axis":null},"y":{"field":"hi","type":"quantitative","scale":{"domain":[-9.413,6.616],"nice":false,"zero":false,"reverse":true},"axis":null}}},
  {"data":{"name":"tlfit"},"mark":{"type":"line","color":"#ec2227","strokeWidth":4,"interpolate":"monotone"},"encoding":{"x":{"field":"a","type":"quantitative","scale":{"domain":[-0.22,31.54],"nice":false,"zero":false},"axis":null},"y":{"field":"v","type":"quantitative","scale":{"domain":[-9.413,6.616],"nice":false,"zero":false,"reverse":true},"axis":null}}},
  {"data":{"name":"tl"},"mark":{"type":"point","filled":true,"color":"#ec2227","size":40,"opacity":1},"encoding":{"x":{"field":"a","type":"quantitative","scale":{"domain":[-0.22,31.54],"nice":false,"zero":false},"axis":null},"y":{"field":"v","type":"quantitative","scale":{"domain":[-9.413,6.616],"nice":false,"zero":false,"reverse":true},"axis":null}}},
  {"data":{"name":"tri"},"mark":{"type":"point","shape":"triangle-up","filled":true,"fill":"#fff200","stroke":"#231f20","strokeWidth":0.8,"size":130,"opacity":1},"encoding":{"x":{"field":"a","type":"quantitative","scale":{"domain":[-0.22,31.54],"nice":false,"zero":false},"axis":null},"y":{"datum":-4.305,"type":"quantitative","scale":{"domain":[-9.413,6.616],"nice":false,"zero":false,"reverse":true},"axis":null}}},
  {"mark":{"type":"rule","opacity":0},"encoding":{"y":{"datum":-6,"type":"quantitative","scale":{"domain":[-9.413,6.616],"nice":false,"zero":false,"reverse":true},"axis":{"orient":"left","values":[-7,-6.5,-6,-5.5,-5,-4.5],"format":".1f","domain":false,"tickSize":6,"labelPadding":3,"title":null,"labelColor":"#ec2227","tickColor":"#ec2227"}}}},
  {"mark":{"type":"rule","opacity":0},"encoding":{"y":{"datum":-6,"type":"quantitative","scale":{"domain":[-9.413,6.616],"nice":false,"zero":false,"reverse":true},"axis":{"orient":"left","values":[-7.2,-7.1,-7,-6.9,-6.8,-6.7,-6.6,-6.5,-6.4,-6.3,-6.2,-6.1,-6,-5.9,-5.8,-5.7,-5.6,-5.5,-5.4,-5.3,-5.2,-5.1,-5,-4.9,-4.8,-4.7,-4.6,-4.5,-4.4,-4.3,-4.2],"labels":false,"domain":false,"tickSize":3,"title":null,"tickColor":"#ec2227"}}}},
  {"mark":{"type":"rule","color":"#ec2227","strokeWidth":2},"encoding":{"x":{"datum":-0.22,"type":"quantitative","scale":{"domain":[-0.22,31.54],"nice":false,"zero":false},"axis":null},"y":{"datum":-7.2,"type":"quantitative","scale":{"domain":[-9.413,6.616],"nice":false,"zero":false,"reverse":true},"axis":null},"y2":{"datum":-4.15}}},
  {"mark":{"type":"text","text":["Higher","global","oxygenation"],"lineHeight":25.5,"fontSize":18,"fontWeight":"bold","color":"#ec2227"},"encoding":{"x":{"datum":-7.28,"type":"quantitative","scale":{"domain":[-0.22,31.54],"nice":false,"zero":false},"axis":null},"y":{"datum":-6.981,"type":"quantitative","scale":{"domain":[-9.413,6.616],"nice":false,"zero":false,"reverse":true},"axis":null}}},
  {"mark":{"type":"rule","color":"#ec2227","strokeWidth":3.3},"encoding":{"x":{"datum":-7.18,"type":"quantitative","scale":{"domain":[-0.22,31.54],"nice":false,"zero":false},"axis":null},"y":{"datum":-5.047,"type":"quantitative","scale":{"domain":[-9.413,6.616],"nice":false,"zero":false,"reverse":true},"axis":null},"y2":{"datum":-6.12}}},
  {"mark":{"type":"point","shape":"triangle-up","filled":true,"color":"#ec2227","size":279,"opacity":1},"encoding":{"x":{"datum":-7.18,"type":"quantitative","scale":{"domain":[-0.22,31.54],"nice":false,"zero":false},"axis":null},"y":{"datum":-6.157,"type":"quantitative","scale":{"domain":[-9.413,6.616],"nice":false,"zero":false,"reverse":true},"axis":null}}},
  {"mark":{"type":"text","text":"ε²⁰⁵Tl","angle":270,"fontSize":18,"color":"#ec2227"},"encoding":{"x":{"datum":-4.54,"type":"quantitative","scale":{"domain":[-0.22,31.54],"nice":false,"zero":false},"axis":null},"y":{"datum":-5.717,"type":"quantitative","scale":{"domain":[-9.413,6.616],"nice":false,"zero":false,"reverse":true},"axis":null}}},
  {"mark":{"type":"text","text":"B","fontSize":21,"fontWeight":"bold","color":"#231f20"},"encoding":{"x":{"datum":30.13,"type":"quantitative","scale":{"domain":[-0.22,31.54],"nice":false,"zero":false},"axis":null},"y":{"datum":-4.11,"type":"quantitative","scale":{"domain":[-9.413,6.616],"nice":false,"zero":false,"reverse":true},"axis":null}}}
 ]},

{"data":{"values":[{}]},"resolve":{"axis":{"y":"independent"}},
 "layer":[
  {"data":{"name":"opal"},"mark":{"type":"line","color":"#7b3f99","strokeWidth":2.5},"encoding":{"x":{"field":"a","type":"quantitative","scale":{"domain":[-0.22,31.54],"nice":false,"zero":false},"axis":null},"y":{"field":"v","type":"quantitative","scale":{"domain":[-15.209,16.545],"nice":false,"zero":false},"axis":null}}},
  {"data":{"name":"opal"},"mark":{"type":"point","filled":true,"color":"#7b3f99","size":32,"opacity":1},"encoding":{"x":{"field":"a","type":"quantitative","scale":{"domain":[-0.22,31.54],"nice":false,"zero":false},"axis":null},"y":{"field":"v","type":"quantitative","scale":{"domain":[-15.209,16.545],"nice":false,"zero":false},"axis":null}}},
  {"mark":{"type":"rule","opacity":0},"encoding":{"y":{"datum":3,"type":"quantitative","scale":{"domain":[-15.209,16.545],"nice":false,"zero":false},"axis":{"orient":"right","offset":5,"values":[1,2,3,4,5,6],"domain":false,"tickSize":5,"labelPadding":2,"title":null,"labelColor":"#7b3f99","tickColor":"#7b3f99"}}}},
  {"mark":{"type":"rule","opacity":0},"encoding":{"y":{"datum":3,"type":"quantitative","scale":{"domain":[-15.209,16.545],"nice":false,"zero":false},"axis":{"orient":"right","offset":5,"values":[0.4,0.6,0.8,1,1.2,1.4,1.6,1.8,2,2.2,2.4,2.6,2.8,3,3.2,3.4,3.6,3.8,4,4.2,4.4,4.6,4.8,5,5.2,5.4,5.6,5.8,6,6.2,6.4],"labels":false,"domain":false,"tickSize":3,"title":null,"tickColor":"#7b3f99"}}}},
  {"mark":{"type":"rule","color":"#7b3f99","strokeWidth":2},"encoding":{"x":{"datum":31.91,"type":"quantitative","scale":{"domain":[-0.22,31.54],"nice":false,"zero":false},"axis":null},"y":{"datum":0.35,"type":"quantitative","scale":{"domain":[-15.209,16.545],"nice":false,"zero":false},"axis":null},"y2":{"datum":6.4}}},
  {"mark":{"type":"text","text":["Antarctic Zone","Southern Ocean"],"lineHeight":23.3,"fontSize":18,"fontWeight":"bold","color":"#7b3f99"},"encoding":{"x":{"datum":25.4,"type":"quantitative","scale":{"domain":[-0.22,31.54],"nice":false,"zero":false},"axis":null},"y":{"datum":3.353,"type":"quantitative","scale":{"domain":[-15.209,16.545],"nice":false,"zero":false},"axis":null}}},
  {"mark":{"type":"text","text":"Opal fluxes (g cm⁻² ka⁻¹)","angle":90,"fontSize":18,"color":"#7b3f99"},"encoding":{"x":{"datum":34.6,"type":"quantitative","scale":{"domain":[-0.22,31.54],"nice":false,"zero":false},"axis":null},"y":{"datum":3.334,"type":"quantitative","scale":{"domain":[-15.209,16.545],"nice":false,"zero":false},"axis":null}}},
  {"mark":{"type":"text","text":["Stronger","upwelling"],"lineHeight":22.3,"fontSize":18,"fontWeight":"bold","color":"#7b3f99"},"encoding":{"x":{"datum":38.46,"type":"quantitative","scale":{"domain":[-0.22,31.54],"nice":false,"zero":false},"axis":null},"y":{"datum":4.656,"type":"quantitative","scale":{"domain":[-15.209,16.545],"nice":false,"zero":false},"axis":null}}},
  {"mark":{"type":"rule","color":"#7b3f99","strokeWidth":3},"encoding":{"x":{"datum":38.6,"type":"quantitative","scale":{"domain":[-0.22,31.54],"nice":false,"zero":false},"axis":null},"y":{"datum":2.073,"type":"quantitative","scale":{"domain":[-15.209,16.545],"nice":false,"zero":false},"axis":null},"y2":{"datum":3.51}}},
  {"mark":{"type":"point","shape":"triangle-up","filled":true,"color":"#7b3f99","size":230,"opacity":1},"encoding":{"x":{"datum":38.6,"type":"quantitative","scale":{"domain":[-0.22,31.54],"nice":false,"zero":false},"axis":null},"y":{"datum":3.56,"type":"quantitative","scale":{"domain":[-15.209,16.545],"nice":false,"zero":false},"axis":null}}},
  {"mark":{"type":"text","text":"C","fontSize":21,"fontWeight":"bold","color":"#231f20"},"encoding":{"x":{"datum":30.13,"type":"quantitative","scale":{"domain":[-0.22,31.54],"nice":false,"zero":false},"axis":null},"y":{"datum":0.893,"type":"quantitative","scale":{"domain":[-15.209,16.545],"nice":false,"zero":false},"axis":null}}}
 ]},

{"data":{"values":[{}]},"resolve":{"axis":{"y":"independent"}},
 "layer":[
  {"mark":{"type":"rule","color":"#58595b","strokeWidth":3,"strokeDash":[22,20]},"encoding":{"x":{"datum":-0.15,"type":"quantitative","scale":{"domain":[-0.22,31.54],"nice":false,"zero":false},"axis":null},"x2":{"datum":29.83},"y":{"datum":0.093,"type":"quantitative","scale":{"domain":[-0.15255,0.22705],"nice":false,"zero":false,"reverse":true},"axis":null}}},
  {"mark":{"type":"text","text":"12","fontSize":17,"fontWeight":"bold","fontStyle":"italic","color":"#3a3a3a"},"encoding":{"x":{"datum":1.15,"type":"quantitative","scale":{"domain":[-0.22,31.54],"nice":false,"zero":false},"axis":null},"y":{"datum":0.0889,"type":"quantitative","scale":{"domain":[-0.15255,0.22705],"nice":false,"zero":false,"reverse":true},"axis":null}}},
  {"mark":{"type":"text","text":"12","fontSize":17,"fontWeight":"bold","fontStyle":"italic","color":"#3a3a3a"},"encoding":{"x":{"datum":30.07,"type":"quantitative","scale":{"domain":[-0.22,31.54],"nice":false,"zero":false},"axis":null},"y":{"datum":0.0892,"type":"quantitative","scale":{"domain":[-0.15255,0.22705],"nice":false,"zero":false,"reverse":true},"axis":null}}},
  {"data":{"name":"atl"},"mark":{"type":"rule","color":"#0f6b3a","strokeWidth":1.8},"encoding":{"x":{"field":"a","type":"quantitative","scale":{"domain":[-0.22,31.54],"nice":false,"zero":false},"axis":null},"y":{"field":"lo","type":"quantitative","scale":{"domain":[-0.15255,0.22705],"nice":false,"zero":false,"reverse":true},"axis":null},"y2":{"field":"hi"}}},
  {"data":{"name":"atl"},"mark":{"type":"point","shape":"stroke","filled":false,"color":"#0f6b3a","strokeWidth":1.8,"size":42,"opacity":1},"encoding":{"x":{"field":"a","type":"quantitative","scale":{"domain":[-0.22,31.54],"nice":false,"zero":false},"axis":null},"y":{"field":"lo","type":"quantitative","scale":{"domain":[-0.15255,0.22705],"nice":false,"zero":false,"reverse":true},"axis":null}}},
  {"data":{"name":"atl"},"mark":{"type":"point","shape":"stroke","filled":false,"color":"#0f6b3a","strokeWidth":1.8,"size":42,"opacity":1},"encoding":{"x":{"field":"a","type":"quantitative","scale":{"domain":[-0.22,31.54],"nice":false,"zero":false},"axis":null},"y":{"field":"hi","type":"quantitative","scale":{"domain":[-0.15255,0.22705],"nice":false,"zero":false,"reverse":true},"axis":null}}},
  {"data":{"name":"atl"},"mark":{"type":"line","color":"#0f6b3a","strokeWidth":2.5},"encoding":{"x":{"field":"a","type":"quantitative","scale":{"domain":[-0.22,31.54],"nice":false,"zero":false},"axis":null},"y":{"field":"v","type":"quantitative","scale":{"domain":[-0.15255,0.22705],"nice":false,"zero":false,"reverse":true},"axis":null}}},
  {"data":{"name":"atl"},"mark":{"type":"point","filled":true,"color":"#0f6b3a","size":32,"opacity":1},"encoding":{"x":{"field":"a","type":"quantitative","scale":{"domain":[-0.22,31.54],"nice":false,"zero":false},"axis":null},"y":{"field":"v","type":"quantitative","scale":{"domain":[-0.15255,0.22705],"nice":false,"zero":false,"reverse":true},"axis":null}}},
  {"data":{"name":"atl2"},"mark":{"type":"rule","color":"#2b3290","strokeWidth":1.8},"encoding":{"x":{"field":"a","type":"quantitative","scale":{"domain":[-0.22,31.54],"nice":false,"zero":false},"axis":null},"y":{"field":"lo","type":"quantitative","scale":{"domain":[-0.15255,0.22705],"nice":false,"zero":false,"reverse":true},"axis":null},"y2":{"field":"hi"}}},
  {"data":{"name":"atl2"},"mark":{"type":"point","shape":"stroke","filled":false,"color":"#2b3290","strokeWidth":1.8,"size":42,"opacity":1},"encoding":{"x":{"field":"a","type":"quantitative","scale":{"domain":[-0.22,31.54],"nice":false,"zero":false},"axis":null},"y":{"field":"lo","type":"quantitative","scale":{"domain":[-0.15255,0.22705],"nice":false,"zero":false,"reverse":true},"axis":null}}},
  {"data":{"name":"atl2"},"mark":{"type":"point","shape":"stroke","filled":false,"color":"#2b3290","strokeWidth":1.8,"size":42,"opacity":1},"encoding":{"x":{"field":"a","type":"quantitative","scale":{"domain":[-0.22,31.54],"nice":false,"zero":false},"axis":null},"y":{"field":"hi","type":"quantitative","scale":{"domain":[-0.15255,0.22705],"nice":false,"zero":false,"reverse":true},"axis":null}}},
  {"data":{"name":"atl2"},"mark":{"type":"line","color":"#2b3290","strokeWidth":2.5},"encoding":{"x":{"field":"a","type":"quantitative","scale":{"domain":[-0.22,31.54],"nice":false,"zero":false},"axis":null},"y":{"field":"v","type":"quantitative","scale":{"domain":[-0.15255,0.22705],"nice":false,"zero":false,"reverse":true},"axis":null}}},
  {"data":{"name":"atl2"},"mark":{"type":"point","filled":true,"color":"#2b3290","size":32,"opacity":1},"encoding":{"x":{"field":"a","type":"quantitative","scale":{"domain":[-0.22,31.54],"nice":false,"zero":false},"axis":null},"y":{"field":"v","type":"quantitative","scale":{"domain":[-0.15255,0.22705],"nice":false,"zero":false,"reverse":true},"axis":null}}},
  {"mark":{"type":"rule","opacity":0},"encoding":{"y":{"datum":0.07,"type":"quantitative","scale":{"domain":[-0.15255,0.22705],"nice":false,"zero":false,"reverse":true},"axis":{"orient":"left","offset":-1,"values":[0.05,0.07,0.09,0.11],"format":".2f","domain":false,"tickSize":5,"labelPadding":2,"title":null}}}},
  {"mark":{"type":"rule","opacity":0},"encoding":{"y":{"datum":0.07,"type":"quantitative","scale":{"domain":[-0.15255,0.22705],"nice":false,"zero":false,"reverse":true},"axis":{"orient":"left","offset":-1,"values":[0.042,0.044,0.046,0.048,0.05,0.052,0.054,0.056,0.058,0.06,0.062,0.064,0.066,0.068,0.07,0.072,0.074,0.076,0.078,0.08,0.082,0.084,0.086,0.088,0.09,0.092,0.094,0.096,0.098,0.1,0.102,0.104,0.106,0.108,0.11,0.112],"labels":false,"domain":false,"tickSize":3,"title":null}}}},
  {"mark":{"type":"rule","color":"#231f20","strokeWidth":2},"encoding":{"x":{"datum":-0.147,"type":"quantitative","scale":{"domain":[-0.22,31.54],"nice":false,"zero":false},"axis":null},"y":{"datum":0.041,"type":"quantitative","scale":{"domain":[-0.15255,0.22705],"nice":false,"zero":false,"reverse":true},"axis":null},"y2":{"datum":0.1125}}},
  {"mark":{"type":"text","text":"Atlantic Ocean","fontSize":18,"fontWeight":"bold","color":"#137b3f"},"encoding":{"x":{"datum":26.7,"type":"quantitative","scale":{"domain":[-0.22,31.54],"nice":false,"zero":false},"axis":null},"y":{"datum":0.0519,"type":"quantitative","scale":{"domain":[-0.15255,0.22705],"nice":false,"zero":false,"reverse":true},"axis":null}}},
  {"mark":{"type":"text","text":["Stronger","AMOC"],"lineHeight":22.7,"fontSize":18,"fontWeight":"bold","color":"#231f20"},"encoding":{"x":{"datum":-7.67,"type":"quantitative","scale":{"domain":[-0.22,31.54],"nice":false,"zero":false},"axis":null},"y":{"datum":0.05822,"type":"quantitative","scale":{"domain":[-0.15255,0.22705],"nice":false,"zero":false,"reverse":true},"axis":null}}},
  {"mark":{"type":"rule","color":"#231f20","strokeWidth":3},"encoding":{"x":{"datum":-7.23,"type":"quantitative","scale":{"domain":[-0.22,31.54],"nice":false,"zero":false},"axis":null},"y":{"datum":0.0911,"type":"quantitative","scale":{"domain":[-0.15255,0.22705],"nice":false,"zero":false,"reverse":true},"axis":null},"y2":{"datum":0.07266}}},
  {"mark":{"type":"point","shape":"triangle-up","filled":true,"color":"#231f20","size":225,"opacity":1},"encoding":{"x":{"datum":-7.23,"type":"quantitative","scale":{"domain":[-0.22,31.54],"nice":false,"zero":false},"axis":null},"y":{"datum":0.07187,"type":"quantitative","scale":{"domain":[-0.15255,0.22705],"nice":false,"zero":false,"reverse":true},"axis":null}}},
  {"mark":{"type":"text","text":"²³¹Pa/²³⁰Th","angle":270,"fontSize":19,"color":"#231f20"},"encoding":{"x":{"datum":-4.6,"type":"quantitative","scale":{"domain":[-0.22,31.54],"nice":false,"zero":false},"axis":null},"y":{"datum":0.0791,"type":"quantitative","scale":{"domain":[-0.15255,0.22705],"nice":false,"zero":false,"reverse":true},"axis":null}}},
  {"mark":{"type":"text","text":"D","fontSize":21,"fontWeight":"bold","color":"#231f20"},"encoding":{"x":{"datum":30.16,"type":"quantitative","scale":{"domain":[-0.22,31.54],"nice":false,"zero":false},"axis":null},"y":{"datum":0.1073,"type":"quantitative","scale":{"domain":[-0.15255,0.22705],"nice":false,"zero":false,"reverse":true},"axis":null}}}
 ]},

{"data":{"values":[{}]},"resolve":{"axis":{"y":"independent"}},
 "layer":[
  {"data":{"name":"ind"},"mark":{"type":"rule","color":"#231f20","strokeWidth":1.8},"encoding":{"x":{"field":"a","type":"quantitative","scale":{"domain":[-0.22,31.54],"nice":false,"zero":false},"axis":null},"y":{"field":"lo","type":"quantitative","scale":{"domain":[-19.54,11.915],"nice":false,"zero":false,"reverse":true},"axis":null},"y2":{"field":"hi"}}},
  {"data":{"name":"ind"},"mark":{"type":"point","shape":"stroke","filled":false,"color":"#231f20","strokeWidth":1.8,"size":49,"opacity":1},"encoding":{"x":{"field":"a","type":"quantitative","scale":{"domain":[-0.22,31.54],"nice":false,"zero":false},"axis":null},"y":{"field":"lo","type":"quantitative","scale":{"domain":[-19.54,11.915],"nice":false,"zero":false,"reverse":true},"axis":null}}},
  {"data":{"name":"ind"},"mark":{"type":"point","shape":"stroke","filled":false,"color":"#231f20","strokeWidth":1.8,"size":49,"opacity":1},"encoding":{"x":{"field":"a","type":"quantitative","scale":{"domain":[-0.22,31.54],"nice":false,"zero":false},"axis":null},"y":{"field":"hi","type":"quantitative","scale":{"domain":[-19.54,11.915],"nice":false,"zero":false,"reverse":true},"axis":null}}},
  {"data":{"name":"ind"},"mark":{"type":"line","color":"#231f20","strokeWidth":2.5},"encoding":{"x":{"field":"a","type":"quantitative","scale":{"domain":[-0.22,31.54],"nice":false,"zero":false},"axis":null},"y":{"field":"v","type":"quantitative","scale":{"domain":[-19.54,11.915],"nice":false,"zero":false,"reverse":true},"axis":null}}},
  {"data":{"name":"ind"},"mark":{"type":"point","filled":true,"color":"#231f20","size":32,"opacity":1},"encoding":{"x":{"field":"a","type":"quantitative","scale":{"domain":[-0.22,31.54],"nice":false,"zero":false},"axis":null},"y":{"field":"v","type":"quantitative","scale":{"domain":[-19.54,11.915],"nice":false,"zero":false,"reverse":true},"axis":null}}},
  {"mark":{"type":"rule","opacity":0},"encoding":{"y":{"datum":3,"type":"quantitative","scale":{"domain":[-19.54,11.915],"nice":false,"zero":false,"reverse":true},"axis":{"orient":"right","offset":-2,"values":[1,2,3,4,5,6],"domain":false,"tickSize":5,"labelPadding":3,"title":null}}}},
  {"mark":{"type":"rule","opacity":0},"encoding":{"y":{"datum":3,"type":"quantitative","scale":{"domain":[-19.54,11.915],"nice":false,"zero":false,"reverse":true},"axis":{"orient":"right","offset":-2,"values":[0.8,1,1.2,1.4,1.6,1.8,2,2.2,2.4,2.6,2.8,3,3.2,3.4,3.6,3.8,4,4.2,4.4,4.6,4.8,5,5.2,5.4,5.6,5.8,6,6.2,6.4,6.6,6.8],"labels":false,"domain":false,"tickSize":3,"title":null}}}},
  {"mark":{"type":"rule","color":"#231f20","strokeWidth":2},"encoding":{"x":{"datum":31.4,"type":"quantitative","scale":{"domain":[-0.22,31.54],"nice":false,"zero":false},"axis":null},"y":{"datum":0.8,"type":"quantitative","scale":{"domain":[-19.54,11.915],"nice":false,"zero":false,"reverse":true},"axis":null},"y2":{"datum":6.85}}},
  {"mark":{"type":"text","text":"Indian Ocean","fontSize":18,"fontWeight":"bold","color":"#231f20"},"encoding":{"x":{"datum":26.4,"type":"quantitative","scale":{"domain":[-0.22,31.54],"nice":false,"zero":false},"axis":null},"y":{"datum":3.035,"type":"quantitative","scale":{"domain":[-19.54,11.915],"nice":false,"zero":false,"reverse":true},"axis":null}}},
  {"mark":{"type":"text","text":"B-Atm ages","angle":90,"fontSize":18,"color":"#231f20"},"encoding":{"x":{"datum":35.63,"type":"quantitative","scale":{"domain":[-0.22,31.54],"nice":false,"zero":false},"axis":null},"y":{"datum":3.418,"type":"quantitative","scale":{"domain":[-19.54,11.915],"nice":false,"zero":false,"reverse":true},"axis":null}}},
  {"mark":{"type":"text","text":"(×1000 ¹⁴C years)","angle":90,"fontSize":18,"color":"#231f20"},"encoding":{"x":{"datum":33.9,"type":"quantitative","scale":{"domain":[-0.22,31.54],"nice":false,"zero":false},"axis":null},"y":{"datum":3.746,"type":"quantitative","scale":{"domain":[-19.54,11.915],"nice":false,"zero":false,"reverse":true},"axis":null}}},
  {"mark":{"type":"text","text":["Weaker","ventilation"],"lineHeight":23.8,"fontSize":18,"fontWeight":"bold","color":"#231f20"},"encoding":{"x":{"datum":38.3,"type":"quantitative","scale":{"domain":[-0.22,31.54],"nice":false,"zero":false},"axis":null},"y":{"datum":4.92,"type":"quantitative","scale":{"domain":[-19.54,11.915],"nice":false,"zero":false,"reverse":true},"axis":null}}},
  {"mark":{"type":"rule","color":"#231f20","strokeWidth":3},"encoding":{"x":{"datum":38.4,"type":"quantitative","scale":{"domain":[-0.22,31.54],"nice":false,"zero":false},"axis":null},"y":{"datum":2.838,"type":"quantitative","scale":{"domain":[-19.54,11.915],"nice":false,"zero":false,"reverse":true},"axis":null},"y2":{"datum":4.333}}},
  {"mark":{"type":"point","shape":"triangle-down","filled":true,"color":"#231f20","size":225,"opacity":1},"encoding":{"x":{"datum":38.4,"type":"quantitative","scale":{"domain":[-0.22,31.54],"nice":false,"zero":false},"axis":null},"y":{"datum":4.392,"type":"quantitative","scale":{"domain":[-19.54,11.915],"nice":false,"zero":false,"reverse":true},"axis":null}}},
  {"mark":{"type":"text","text":"E","fontSize":21,"fontWeight":"bold","color":"#231f20"},"encoding":{"x":{"datum":30.13,"type":"quantitative","scale":{"domain":[-0.22,31.54],"nice":false,"zero":false},"axis":null},"y":{"datum":6.275,"type":"quantitative","scale":{"domain":[-19.54,11.915],"nice":false,"zero":false,"reverse":true},"axis":null}}}
 ]},

{"data":{"values":[{}]},"resolve":{"axis":{"y":"independent"}},
 "layer":[
  {"data":{"name":"pac"},"mark":{"type":"rule","color":"#00847e","strokeWidth":1.3},"encoding":{"x":{"field":"a1","type":"quantitative","scale":{"domain":[-0.22,31.54],"nice":false,"zero":false},"axis":null},"x2":{"field":"a2"},"y":{"field":"v1","type":"quantitative","scale":{"domain":[-377.6,1232.9],"nice":false,"zero":false},"axis":null},"y2":{"field":"v2"}}},
  {"data":{"name":"pacl"},"mark":{"type":"line","color":"#00847e","strokeWidth":3},"encoding":{"x":{"field":"a","type":"quantitative","scale":{"domain":[-0.22,31.54],"nice":false,"zero":false},"axis":null},"y":{"field":"v","type":"quantitative","scale":{"domain":[-377.6,1232.9],"nice":false,"zero":false},"axis":null}}},
  {"data":{"name":"pac"},"mark":{"type":"point","filled":true,"color":"#00847e","size":70,"opacity":1},"encoding":{"x":{"field":"a","type":"quantitative","scale":{"domain":[-0.22,31.54],"nice":false,"zero":false},"axis":null},"y":{"field":"v","type":"quantitative","scale":{"domain":[-377.6,1232.9],"nice":false,"zero":false},"axis":null}}},
  {"mark":{"type":"rule","opacity":0},"encoding":{"y":{"datum":-200,"type":"quantitative","scale":{"domain":[-377.6,1232.9],"nice":false,"zero":false},"axis":{"orient":"left","offset":-1,"values":[-100,-150,-200,-250,-300,-350],"domain":false,"tickSize":5,"labelPadding":2,"title":null,"labelColor":"#00847e","tickColor":"#00847e"}}}},
  {"mark":{"type":"rule","color":"#00847e","strokeWidth":2},"encoding":{"x":{"datum":-0.147,"type":"quantitative","scale":{"domain":[-0.22,31.54],"nice":false,"zero":false},"axis":null},"y":{"datum":-373.5,"type":"quantitative","scale":{"domain":[-377.6,1232.9],"nice":false,"zero":false},"axis":null},"y2":{"datum":-100}}},
  {"mark":{"type":"text","text":["Pacific sector","Southern Ocean"],"lineHeight":22.3,"fontSize":18,"fontWeight":"bold","color":"#00847e"},"encoding":{"x":{"datum":26.95,"type":"quantitative","scale":{"domain":[-0.22,31.54],"nice":false,"zero":false},"axis":null},"y":{"datum":-172.5,"type":"quantitative","scale":{"domain":[-377.6,1232.9],"nice":false,"zero":false},"axis":null}}},
  {"mark":{"type":"text","text":["Weaker","ventilation"],"lineHeight":22.3,"fontSize":18,"fontWeight":"bold","color":"#00847e"},"encoding":{"x":{"datum":38.1,"type":"quantitative","scale":{"domain":[-0.22,31.54],"nice":false,"zero":false},"axis":null},"y":{"datum":-291.5,"type":"quantitative","scale":{"domain":[-377.6,1232.9],"nice":false,"zero":false},"axis":null}}},
  {"mark":{"type":"rule","color":"#00847e","strokeWidth":3},"encoding":{"x":{"datum":38.09,"type":"quantitative","scale":{"domain":[-0.22,31.54],"nice":false,"zero":false},"axis":null},"y":{"datum":-181.4,"type":"quantitative","scale":{"domain":[-377.6,1232.9],"nice":false,"zero":false},"axis":null},"y2":{"datum":-259.9}}},
  {"mark":{"type":"point","shape":"triangle-down","filled":true,"color":"#00847e","size":225,"opacity":1},"encoding":{"x":{"datum":38.09,"type":"quantitative","scale":{"domain":[-0.22,31.54],"nice":false,"zero":false},"axis":null},"y":{"datum":-262.9,"type":"quantitative","scale":{"domain":[-377.6,1232.9],"nice":false,"zero":false},"axis":null}}},
  {"mark":{"type":"text","text":"δ¹⁴R","angle":270,"align":"left","fontSize":19,"color":"#00847e"},"encoding":{"x":{"datum":-4.6,"type":"quantitative","scale":{"domain":[-0.22,31.54],"nice":false,"zero":false},"axis":null},"y":{"datum":-299.5,"type":"quantitative","scale":{"domain":[-377.6,1232.9],"nice":false,"zero":false},"axis":null}}},
  {"mark":{"type":"text","text":"b-atm","angle":270,"align":"left","fontSize":14,"color":"#00847e"},"encoding":{"x":{"datum":-4.19,"type":"quantitative","scale":{"domain":[-0.22,31.54],"nice":false,"zero":false},"axis":null},"y":{"datum":-252.6,"type":"quantitative","scale":{"domain":[-377.6,1232.9],"nice":false,"zero":false},"axis":null}}},
  {"mark":{"type":"text","text":"(‰)","angle":270,"align":"left","fontSize":17,"color":"#00847e"},"encoding":{"x":{"datum":-4.6,"type":"quantitative","scale":{"domain":[-0.22,31.54],"nice":false,"zero":false},"axis":null},"y":{"datum":-204.6,"type":"quantitative","scale":{"domain":[-377.6,1232.9],"nice":false,"zero":false},"axis":null}}},
  {"mark":{"type":"text","text":"F","fontSize":21,"fontWeight":"bold","color":"#231f20"},"encoding":{"x":{"datum":30.07,"type":"quantitative","scale":{"domain":[-0.22,31.54],"nice":false,"zero":false},"axis":null},"y":{"datum":-354.6,"type":"quantitative","scale":{"domain":[-377.6,1232.9],"nice":false,"zero":false},"axis":null}}}
 ]}
]
}
